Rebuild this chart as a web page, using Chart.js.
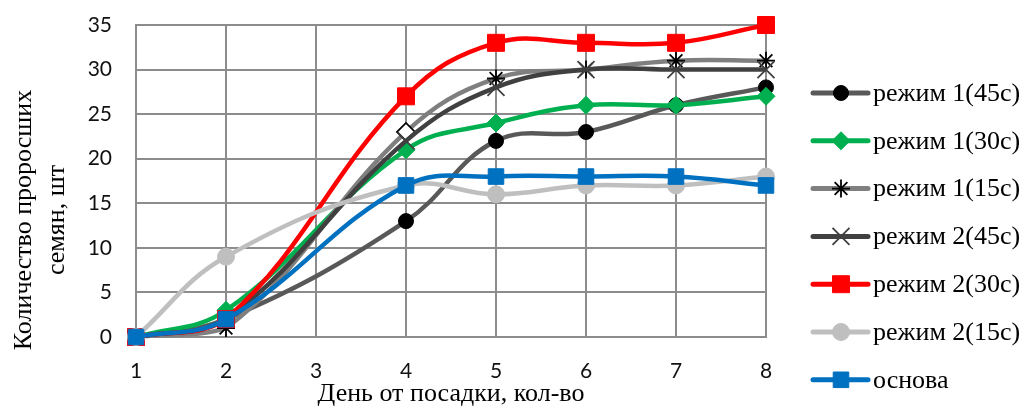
<!DOCTYPE html>
<html>
<head>
<meta charset="utf-8">
<script src="https://cdn.jsdelivr.net/npm/chart.js@4"></script>
<style>
  body { margin: 0; background: #fff; }
</style>
</head>
<body>
<canvas id="chart" width="1025" height="410"></canvas>
<script>
// days after planting (day 3 was not measured)
const days = ['1', '2', '3', '4', '5', '6', '7', '8'];
const mode1_45 = [0, 2, null, 13, 22, 23, 26, 28];
const mode1_30 = [0, 3, null, 21, 24, 26, 26, 27];
const mode1_15 = [0, 1, null, 23, 29, 30, 31, 31];
const mode2_45 = [0, 2, null, 22, 28, 30, 30, 30];
const mode2_30 = [0, 2, null, 27, 33, 33, 33, 35];
const mode2_15 = [0, 9, null, 17, 16, 17, 17, 18];
const base = [0, 2, null, 17, 18, 18, 18, 17];
const seriesNames = ['режим 1(45с)', 'режим 1(30с)', 'режим 1(15с)', 'режим 2(45с)', 'режим 2(30с)', 'режим 2(15с)', 'основа'];
const yMin = 0, yMax = 35, yStep = 5;

const serif = 'Liberation Serif';

const datasets = [
    {
        label: seriesNames[0], data: mode1_45,
        borderColor: '#595959', pointStyle: 'circle', pointRadius: 7.5,
        pointBackgroundColor: '#000', pointBorderColor: '#000', pointBorderWidth: 1
    },
    {
        label: seriesNames[1], data: mode1_30,
        borderColor: '#00b050', pointStyle: 'rectRot', pointRadius: 9,
        pointBackgroundColor: '#00b050', pointBorderColor: '#00b050', pointBorderWidth: 1
    },
    {
        label: seriesNames[2], data: mode1_15,
        borderColor: '#7f7f7f',
        pointStyle: ['star', 'star', 'star', 'rectRot', 'star', 'star', 'star', 'star'],
        pointRadius: [9, 9, 9, 9, 9, 9, 9, 9],
        pointBackgroundColor: ['#000', '#000', '#000', '#fff', '#000', '#000', '#000', '#000'],
        pointBorderColor: '#000', pointBorderWidth: 1.8
    },
    {
        label: seriesNames[3], data: mode2_45,
        borderColor: '#404040', pointStyle: 'crossRot', pointRadius: 12,
        pointBackgroundColor: '#404040', pointBorderColor: '#404040', pointBorderWidth: 1.8
    },
    {
        label: seriesNames[4], data: mode2_30,
        borderColor: '#ff0000', pointStyle: 'rect', pointRadius: 12,
        pointBackgroundColor: '#ff0000', pointBorderColor: '#ff0000', pointBorderWidth: 1
    },
    {
        label: seriesNames[5], data: mode2_15,
        borderColor: '#bfbfbf', pointStyle: 'circle', pointRadius: 8.5,
        pointBackgroundColor: '#bfbfbf', pointBorderColor: '#bfbfbf', pointBorderWidth: 1
    },
    {
        label: seriesNames[6], data: base,
        borderColor: '#0070c0', pointStyle: 'rect', pointRadius: 11,
        pointBackgroundColor: '#0070c0', pointBorderColor: '#0070c0', pointBorderWidth: 1
    }
];

// Excel draws the last series on top
datasets.forEach((ds, i) => {
    ds.order = datasets.length - 1 - i;
    ds.borderWidth = 4.5;
    ds.tension = 0.4;
    ds.fill = false;
    ds.spanGaps = true;
    ds.clip = false;
});

// legend on the right and the two-line y title, drawn by hand
const extras = {
    id: 'extras',
    afterDraw(chart) {
        const ctx = chart.ctx;
        ctx.save();

        // y axis title
        ctx.translate(40, 220);
        ctx.rotate(-Math.PI / 2);
        ctx.fillStyle = '#000';
        ctx.font = '26px "' + serif + '"';
        ctx.textAlign = 'center';
        ctx.textBaseline = 'middle';
        ctx.fillText('Количество проросших', 0, -16);
        ctx.fillText('семян, шт', 0, 17);
        ctx.restore();

        // legend
        ctx.save();
        const x0 = 813, x1 = 868, xm = 841;
        let y = 93;
        chart.data.datasets.forEach(ds => {
            ctx.strokeStyle = ds.borderColor;
            ctx.lineWidth = 5;
            ctx.lineCap = 'round';
            ctx.beginPath();
            ctx.moveTo(x0, y);
            ctx.lineTo(x1, y);
            ctx.stroke();

            const style = Array.isArray(ds.pointStyle) ? ds.pointStyle[0] : ds.pointStyle;
            const bg = Array.isArray(ds.pointBackgroundColor) ? ds.pointBackgroundColor[0] : ds.pointBackgroundColor;
            const r = Array.isArray(ds.pointRadius) ? ds.pointRadius[0] : ds.pointRadius;
            ctx.fillStyle = bg;
            ctx.strokeStyle = ds.pointBorderColor;
            ctx.lineWidth = ds.pointBorderWidth;
            ctx.lineCap = 'butt';
            Chart.helpers.drawPoint(ctx, { pointStyle: style, radius: r, rotation: 0, borderWidth: ds.pointBorderWidth }, xm, y);

            ctx.fillStyle = '#000';
            ctx.font = '26px "' + serif + '"';
            ctx.textAlign = 'left';
            ctx.textBaseline = 'middle';
            ctx.fillText(ds.label, 873, y + 1);
            y += 47.8;
        });
        ctx.restore();
    }
};

new Chart(document.getElementById('chart'), {
    type: 'line',
    data: { labels: days, datasets: datasets },
    options: {
        responsive: false,
        animation: false,
        layout: { padding: { left: 0, right: 259, top: 25, bottom: 0 } },
        plugins: { legend: { display: false }, tooltip: { enabled: false } },
        scales: {
            x: {
                grid: { color: '#8c8c8c', lineWidth: 2, drawTicks: false },
                border: { color: '#8c8c8c', width: 2 },
                ticks: { color: '#111', font: { family: 'Lato', size: 21 }, padding: 22 },
                title: {
                    display: true, text: 'День от посадки, кол-во', color: '#000',
                    font: { family: serif, size: 26 }, padding: { top: 3, bottom: 0 }
                },
                afterFit(scale) { scale.height = 73; scale.paddingLeft = 0; scale.paddingRight = 0; }
            },
            y: {
                min: yMin, max: yMax,
                grid: { color: '#8c8c8c', lineWidth: 2, drawTicks: false },
                border: { color: '#8c8c8c', width: 2 },
                ticks: { stepSize: yStep, color: '#111', font: { family: 'Lato', size: 21 }, padding: 24 },
                afterFit(scale) { scale.width = 136; scale.paddingTop = 0; scale.paddingBottom = 0; }
            }
        }
    },
    plugins: [extras]
});
</script>
</body>
</html>
